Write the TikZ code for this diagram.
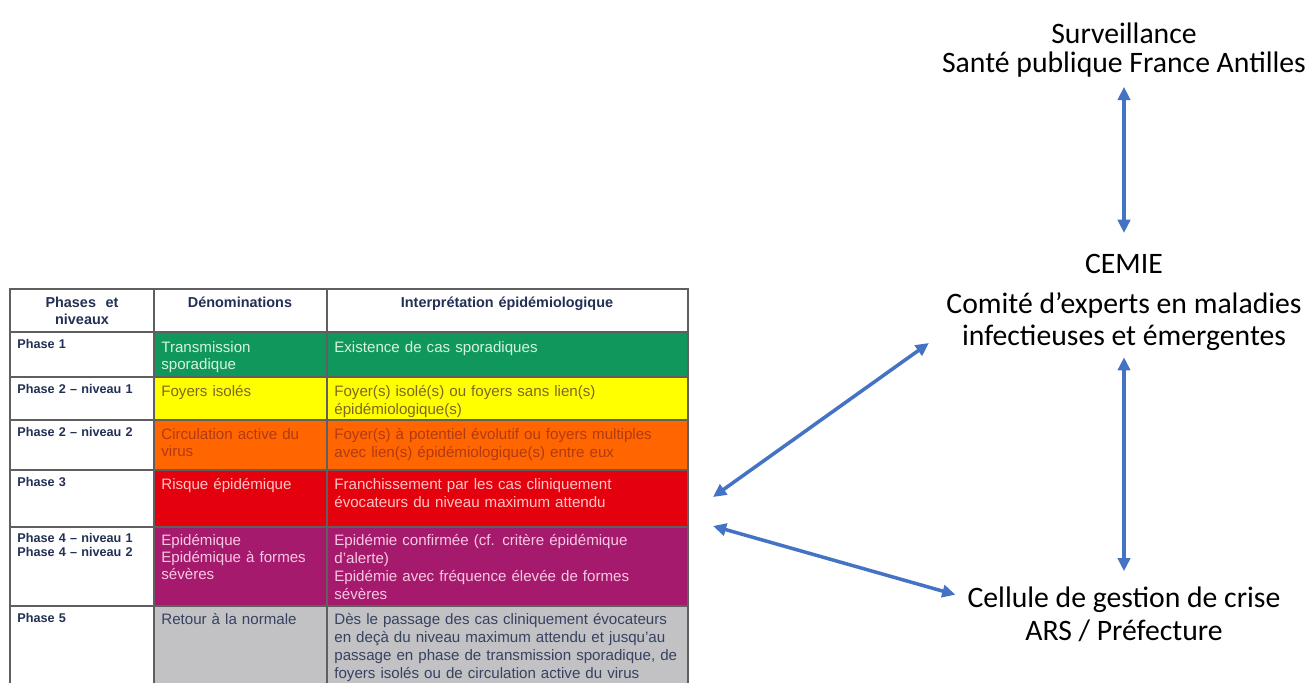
\documentclass[tikz,border=0pt]{standalone}
\usepackage{fontspec}
\setmainfont{Liberation Sans}
\newfontfamily\carlito{Carlito}
\usetikzlibrary{arrows.meta}
\definecolor{navy}{RGB}{35,48,85}
\definecolor{gridgrey}{RGB}{95,95,95}
\definecolor{phgreen}{RGB}{16,152,92}
\definecolor{phyellow}{RGB}{255,255,0}
\definecolor{phorange}{RGB}{255,102,0}
\definecolor{phred}{RGB}{228,0,12}
\definecolor{phpurple}{RGB}{166,26,110}
\definecolor{phgrey}{RGB}{194,194,196}
\definecolor{greentxt}{RGB}{215,242,225}
\definecolor{yellowtxt}{RGB}{125,105,30}
\definecolor{orangetxt}{RGB}{178,58,18}
\definecolor{redtxt}{RGB}{255,198,198}
\definecolor{purpletxt}{RGB}{246,200,226}
\definecolor{greytxt}{RGB}{55,66,98}
\definecolor{arrowblue}{RGB}{68,114,196}

\begin{document}
\begin{tikzpicture}[x=0.2mm,y=-0.2mm,
  >={Triangle[length=7.5pt,width=7pt]},
  gridline/.style={draw=gridgrey,line width=0.7pt},
  headtxt/.style={anchor=base,inner sep=0pt,align=center,text=navy,font=\bfseries\fontsize{8.2}{10.2}\selectfont},
  phasetxt/.style={anchor=base west,inner sep=0pt,text width=80pt,align=left,text=navy,font=\bfseries\fontsize{7.2}{8}\selectfont},
  dentxt/.style={anchor=base west,inner sep=0pt,text width=95pt,align=left,font=\fontsize{8.6}{9.8}\selectfont},
  interptxt/.style={anchor=base west,inner sep=0pt,text width=205pt,align=left,font=\fontsize{8.6}{10.3}\selectfont},
  orgtxt/.style={anchor=north,inner sep=0pt,align=center,font=\carlito\fontsize{16.9}{18.5}\selectfont},
  linkarrow/.style={<->,draw=arrowblue,line width=2pt}]
\fill[white] (0,0) rectangle (1305,682);
\useasboundingbox (0,0) rectangle (1305,682);

% Table cell colours
\fill[phgreen] (154,332) rectangle (688,377);
\fill[phyellow] (154,377) rectangle (688,420);
\fill[phorange] (154,420) rectangle (688,470);
\fill[phred] (154,470) rectangle (688,527);
\fill[phpurple] (154,527) rectangle (688,606);
\fill[phgrey] (154,606) rectangle (688,690);

% Table grid
\draw[gridline] (10,690) -- (10,289) -- (688,289) -- (688,690);
\draw[gridline] (154,289) -- (154,690);
\draw[gridline] (327,289) -- (327,690);
\draw[gridline,line width=1pt] (10,332) -- (688,332);
\draw[gridline] (10,377) -- (688,377);
\draw[gridline] (10,420) -- (688,420);
\draw[gridline] (10,470) -- (688,470);
\draw[gridline] (10,527) -- (688,527);
\draw[gridline] (10,606) -- (688,606);

% Header row
\node[headtxt,text width=80pt] (hphase) at (82,307) {Phases~ et\\niveaux};
\node[headtxt,text width=95pt] (hden) at (240,307) {Dénominations};
\node[headtxt,text width=200pt] (hinterp) at (507,307) {Interprétation épidémiologique};

% Phases et niveaux
\node[phasetxt] (ph1) at (17,348) {Phase 1};
\node[phasetxt] (ph21) at (17,393) {Phase 2 – niveau 1};
\node[phasetxt] (ph22) at (17,436) {Phase 2 – niveau 2};
\node[phasetxt] (ph3) at (17,486) {Phase 3};
\node[phasetxt] (ph4) at (17,542) {Phase 4 – niveau 1\\Phase 4 – niveau 2};
\node[phasetxt] (ph5) at (17,622) {Phase 5};

% Denominations
\node[dentxt,text=greentxt] (den1) at (161,352) {Transmission\\sporadique};
\node[dentxt,text=yellowtxt] (den21) at (161,396) {Foyers isolés};
\node[dentxt,text=orangetxt] (den22) at (161,439) {Circulation active du\\virus};
\node[dentxt,text=redtxt] (den3) at (161,489) {Risque épidémique};
\node[dentxt,text=purpletxt] (den4) at (161,545) {Epidémique\\Epidémique à formes\\sévères};
\node[dentxt,text=greytxt] (den5) at (161,624) {Retour à la normale};

% Interpretation epidemiologique
\node[interptxt,text=greentxt] (int1) at (334,352) {Existence de cas sporadiques};
\node[interptxt,text=yellowtxt] (int21) at (334,396) {Foyer(s) isolé(s) ou foyers sans lien(s)\\épidémiologique(s)};
\node[interptxt,text=orangetxt] (int22) at (334,439) {Foyer(s) à potentiel évolutif ou foyers multiples\\avec lien(s) épidémiologique(s) entre eux};
\node[interptxt,text=redtxt] (int3) at (334,489) {Franchissement par les cas cliniquement\\évocateurs du niveau maximum attendu};
\node[interptxt,text=purpletxt] (int4) at (334,545) {Epidémie confirmée (cf. critère épidémique\\d’alerte)\\Epidémie avec fréquence élevée de formes\\sévères};
\node[interptxt,text=greytxt] (int5) at (334,624) {Dès le passage des cas cliniquement évocateurs\\en deçà du niveau maximum attendu et jusqu’au\\passage en phase de transmission sporadique, de\\foyers isolés ou de circulation active du virus};

% Organisation
\node[orgtxt] (surv) at (1124,23) {Surveillance\\[-2pt]Santé publique France Antilles};
\node[orgtxt] (cemie) at (1124,254) {CEMIE\\[4pt]Comité d’experts en maladies\\infectieuses et émergentes};
\node[orgtxt] (crise) at (1124,587) {Cellule de gestion de crise\\ARS / Préfecture};
\coordinate (tabA) at (713,497);
\coordinate (tabB) at (713,526);

% Arrows
\draw[linkarrow,shorten <=5pt,shorten >=12pt] (surv) -- (cemie);
\draw[linkarrow,shorten <=3.5pt,shorten >=9pt] (cemie) -- (crise);
\draw[linkarrow,shorten >=12pt] (tabA) -- (cemie.189);
\draw[linkarrow,shorten >=7pt] (tabB) -- (crise.174);
\end{tikzpicture}
\end{document}
